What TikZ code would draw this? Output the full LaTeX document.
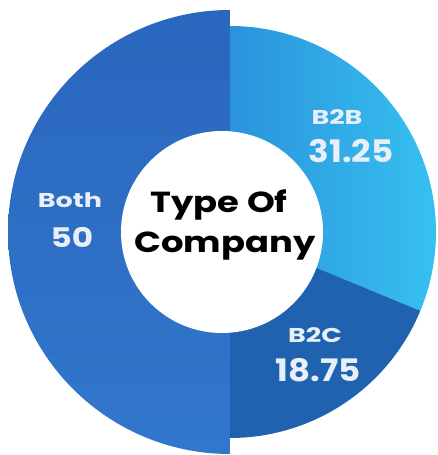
\documentclass[tikz,border=0pt]{standalone}
\usepackage{fontspec}
\setmainfont{Poppins}
\usepackage{tikz}
\definecolor{bothtop}{HTML}{2A67BE}
\definecolor{bothbot}{HTML}{3177CB}
\definecolor{btobl}{HTML}{2A93DC}
\definecolor{btobr}{HTML}{37C3F0}
\definecolor{btoc}{HTML}{1F63B0}
\definecolor{lbl}{HTML}{E9EFF8}
\tikzset{
  lab/.style={anchor=base,text=lbl,xscale=1.35,transform shape,font=\bfseries\fontsize{20}{22}\selectfont},
  num/.style={anchor=base,text=lbl,xscale=1.1,transform shape,font=\bfseries\fontsize{31}{33}\selectfont},
  ttl/.style={anchor=base,text=black,xscale=1.22,transform shape,font=\bfseries\fontsize{29}{31}\selectfont}
}
\begin{document}
\begin{tikzpicture}[x=1pt,y=1pt]
      \useasboundingbox (0,0) rectangle (438,455);
      \coordinate (o) at (230,223);
      % segments
      \shade[top color=bothtop,bottom color=bothbot] (o) -- ++(90:222) arc (90:270:222) -- cycle;
      \shade[left color=btobl,right color=btobr] (o) -- ++(90:206) arc (90:-22.5:206) -- cycle;
      \fill[btoc] (o) -- ++(-22.5:206) arc (-22.5:-90:206) -- cycle;
      \node [circle,fill=white,minimum size=202pt,inner sep=0pt] (hub) at (222,223) {};
      \node [ttl] (type) at (219,242) {Type Of};
      \node [ttl] (comp) at (225,202) {Company};
      \node [lab] (both) at (70,247) {Both};
      \node [num,xscale=1.1,font=\bfseries\fontsize{27}{29}\selectfont] (bothv) at (72,207) {50};
      \node [lab] (btob) at (337,330) {B2B};
      \node [num] (btobv) at (351,292) {31.25};
      \node [lab] (btoc) at (315,112) {B2C};
      \node [num] (btocv) at (318,73) {18.75};
    \end{tikzpicture}
\end{document}
